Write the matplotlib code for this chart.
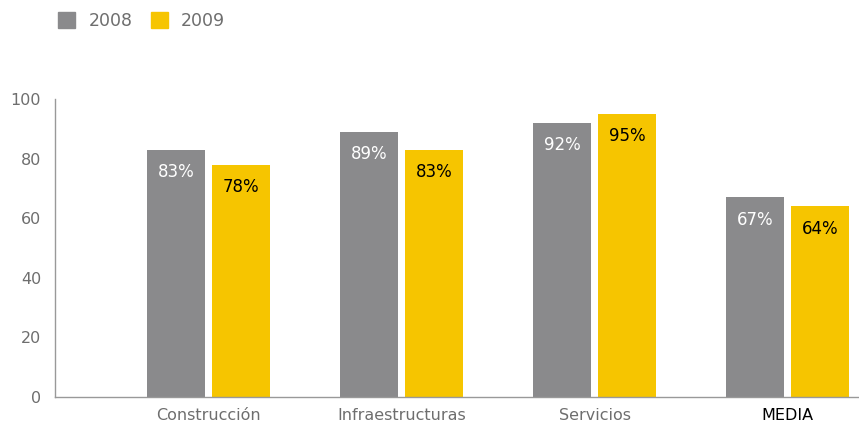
import matplotlib
matplotlib.use("Agg")
import matplotlib.pyplot as plt
import numpy as np
from matplotlib.patches import Patch

categories = ["Construcción", "Infraestructuras", "Servicios", "MEDIA"]
series_names = ["2008", "2009"]
values_2008 = [83, 89, 92, 67]
values_2009 = [78, 83, 95, 64]
yticks = [0, 20, 40, 60, 80, 100]

c08 = "#8a8a8c"
c09 = "#f6c500"
tick_col = "#6e6e6e"

plt.rcParams['font.family'] = ['DejaVu Sans']

fig = plt.figure(figsize=(8.59, 4.25), dpi=100)
ax = fig.add_axes([55/859, 28/425, 803/859, 298/425])

x = np.arange(len(categories))
w = 0.30
off = 0.168
ax.bar(x - off, values_2008, w, color=c08)
ax.bar(x + off, values_2009, w, color=c09)

for xi, v in zip(x, values_2008):
    ax.text(xi - off, v - 7.5, f"{v}%", ha="center", va="center", color="white", fontsize=12)
for xi, v in zip(x, values_2009):
    ax.text(xi + off, v - 7.5, f"{v}%", ha="center", va="center", color="black", fontsize=12)

ax.set_xlim(-0.795, 3.365)
ax.set_ylim(0, 100)
ax.set_yticks(yticks)
ax.set_yticklabels([str(t) for t in yticks], color=tick_col, fontsize=11.5)
ax.set_xticks(x)
ax.set_xticklabels(categories, fontsize=11.5)
for lbl, cat in zip(ax.get_xticklabels(), categories):
    lbl.set_color("black" if cat == "MEDIA" else tick_col)
ax.tick_params(axis="both", length=0)
ax.tick_params(axis="y", pad=10)
ax.tick_params(axis="x", pad=8)
for s in ["top", "right"]:
    ax.spines[s].set_visible(False)
for s in ["left", "bottom"]:
    ax.spines[s].set_color("#999999")
    ax.spines[s].set_linewidth(1)

handles = [Patch(color=c08), Patch(color=c09)]
fig.legend(handles, series_names, loc="upper left", bbox_to_anchor=(58/859, 1 - 12/425),
           ncol=2, frameon=False, fontsize=12.5, handlelength=1.0, handleheight=1.0,
           columnspacing=1.05, handletextpad=0.75, labelcolor=tick_col,
           borderpad=0, borderaxespad=0)

fig.savefig("out.png", dpi=100)
